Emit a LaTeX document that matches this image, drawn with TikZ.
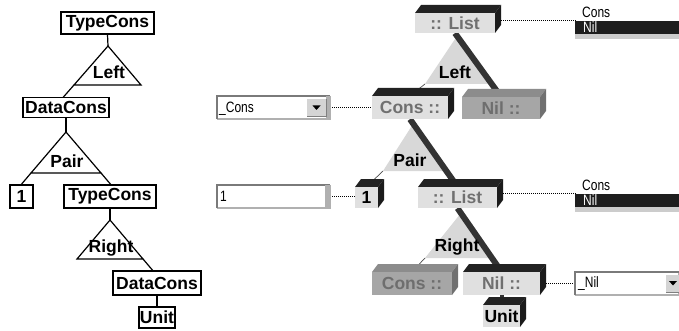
\documentclass[tikz,border=0pt]{standalone}
\usepackage{fontspec}
\setmainfont{Liberation Sans}
\newfontfamily\guifont[FakeStretch=0.8]{Liberation Sans}
\pgfdeclarelayer{paper}
\pgfdeclarelayer{bg}
\pgfsetlayers{paper,bg,main}
\definecolor{face}{HTML}{E0E0E0}
\definecolor{faced}{HTML}{A6A6A6}
\definecolor{sidek}{HTML}{222222}
\definecolor{sided}{HTML}{8C8C8C}
\definecolor{txtg}{HTML}{707070}
\definecolor{txtd}{HTML}{6E6E6E}
\definecolor{tri}{HTML}{D8D8D8}
\definecolor{barc}{HTML}{333333}
\definecolor{lbdark}{HTML}{1E1E1E}
\definecolor{framec}{HTML}{7A7A7A}
\definecolor{framel}{HTML}{B0B0B0}
\definecolor{btn}{HTML}{D4D4D4}
\def\bxd{6}
\def\bxh{8}
% 3D box: name, x1, y1, x2, y2, face, side, text colour, text
\newcommand\cbox[9]{%
  \fill[#7] (#2,#3) -- ({#2+\bxd},{#3-\bxh}) -- ({#4+\bxd},{#3-\bxh}) -- (#4,#3) -- cycle;
  \fill[#7!80!black] (#4,#3) -- ({#4+\bxd},{#3-\bxh}) -- ({#4+\bxd},{#5-\bxh}) -- (#4,#5) -- cycle;
  \node[boxface, fill=#6, text=#8, minimum width={(#4-#2)*1pt}, minimum height={(#5-#3)*1pt}] (#1) at ({(#2+#4)/2},{(#3+#5)/2}) {#9};%
}
% sunken GUI field: name, x1, y1, x2, y2
\newcommand\sunkfield[5]{%
  \node[fill=white, inner sep=0pt, minimum width={(#4-#2)*1pt}, minimum height={(#5-#3)*1pt}] (#1) at ({(#2+#4)/2},{(#3+#5)/2}) {};
  \draw[line width=1.5pt, framel] (#2,#5) -- (#4,#5) -- (#4,#3);
  \draw[line width=2pt, framec] (#2,#5) -- (#2,#3) -- (#4,#3);%
}
\begin{document}
\begin{tikzpicture}[x=1pt,y=-1pt,
  lbox/.style={draw, line width=1.2pt, inner sep=0pt, font=\bfseries\fontsize{17.5}{18}\selectfont},
  tline/.style={line width=1.2pt},
  lbl/.style={inner sep=0pt, font=\bfseries\fontsize{17.5}{18}\selectfont},
  boxface/.style={inner sep=0pt, font=\bfseries\fontsize{17.5}{18}\selectfont},
  barline/.style={line width=6pt, barc},
  thinline/.style={line width=0.7pt, gray!60!black},
  dots/.style={dash pattern=on 0.8pt off 1.2pt, line width=0.8pt},
  gui/.style={inner sep=0pt, anchor=west, font=\guifont\fontsize{15}{16}\selectfont}]
\useasboundingbox (0,0) rectangle (679,331);
\begin{pgfonlayer}{paper}
\fill[white] (0,0) rectangle (679,331);
\end{pgfonlayer}

% ---------- left tree ----------
\node[lbox, minimum width=93, minimum height=22] (TC1) at (107.5,23) {TypeCons};
\coordinate (A1) at (108,46);
\coordinate (A1l) at (74,85);
\coordinate (A1r) at (141,85);
\draw[tline] (TC1.south) -- (A1);
\draw[tline] (A1) -- (A1l) -- (A1r) -- cycle;
\node[lbl] (Lleft) at (109,72) {Left};
\node[lbox, minimum width=86, minimum height=20] (DC1) at (66,107.5) {DataCons};
\coordinate (E1) at (63,97.5);
\draw[tline] (A1l) -- (E1);

\coordinate (A2) at (66,132);
\coordinate (A2l) at (31,173);
\coordinate (A2r) at (101,173);
\draw[tline] (DC1.south) -- (A2);
\draw[tline] (A2) -- (A2l) -- (A2r) -- cycle;
\node[lbl] (Lpair) at (67,161) {Pair};
\node[lbox, minimum width=23, minimum height=23] (OneL) at (21.5,196.5) {1};
\node[lbox, minimum width=92, minimum height=23] (TC2) at (110,196.5) {TypeCons};
\coordinate (E2l) at (20.8,185);
\coordinate (E2r) at (111.2,185);
\draw[tline] (A2l) -- (E2l);
\draw[tline] (A2r) -- (E2r);

\coordinate (A3) at (110,220);
\coordinate (A3l) at (77,259);
\coordinate (A3r) at (143,259);
\draw[tline] (TC2.south) -- (A3);
\draw[tline] (A3) -- (A3l) -- (A3r) -- cycle;
\node[lbl] (Lright) at (111,248) {Right};
\node[lbox, minimum width=88, minimum height=24] (DC2) at (157,283) {DataCons};
\coordinate (E3) at (153.2,271);
\draw[tline] (A3r) -- (E3);
\node[lbox, minimum width=36, minimum height=21] (UnitL) at (157,317.5) {Unit};
\draw[tline] (DC2.south) -- (UnitL.north);

% ---------- right tree boxes ----------
\cbox{L1}{415}{13}{495}{33}{face}{sidek}{txtg}{:: List}
\cbox{C1}{372}{96}{448}{119}{face}{sidek}{txtg}{Cons ::}
\cbox{N1}{462}{97}{540}{119}{faced}{sided}{txtd}{Nil ::}
\cbox{One}{355}{187}{378}{208}{face}{sidek}{black}{1}
\cbox{L2}{418}{187}{497}{208}{face}{sidek}{txtg}{:: List}
\cbox{C2}{372}{272}{452}{295}{faced}{sided}{txtd}{Cons ::}
\cbox{N2}{463}{272}{540}{295}{face}{sidek}{txtg}{Nil ::}
\cbox{U}{483}{305}{520}{327}{face}{sidek}{black}{Unit}

\node[lbl] (Rleft) at (455,72) {Left};
\node[lbl] (Rpair) at (410,160) {Pair};
\node[lbl] (Rright) at (457,247) {Right};

% ---------- GUI widgets ----------
\sunkfield{DD1}{217}{96}{330}{119}
\fill[framel] (326,96) rectangle (330,119);
\fill[btn] (307,99) rectangle (326,116.5);
\draw[gray] (307,116.5) -- (326,116.5) -- (326,99);
\fill[black] (312.5,105.5) -- (320.5,105.5) -- (316.5,110) -- cycle;
\node[gui] (DD1t) at (219,108.5) {\_Cons};

\sunkfield{TF}{217}{185}{330}{208}
\fill[framel] (325,185) rectangle (330,208);
\node[gui] (TFt) at (220,196.5) {1};

\node[gui] (LB1c) at (582,12.5) {Cons};
\node[fill=lbdark, inner sep=0pt, minimum width=104, minimum height=13, anchor=north west] (LB1) at (575,21) {};
\node[gui, text=white] (LB1n) at (583,27.5) {Nil};
\fill[gray!40] (575,34) rectangle (679,39);
\coordinate (lb1p) at (576,20);

\node[gui] (LB2c) at (582,185.5) {Cons};
\node[fill=lbdark, inner sep=0pt, minimum width=104, minimum height=13, anchor=north west] (LB2) at (575,194) {};
\node[gui, text=white] (LB2n) at (583,200.5) {Nil};
\fill[gray!40] (575,207) rectangle (679,212);
\coordinate (lb2p) at (576,193);

\sunkfield{DD2}{575}{272}{679}{295}
\fill[btn] (666,275) rectangle (679,292);
\draw[gray] (666,292) -- (679,292);
\fill[black] (669,281) -- (677,281) -- (673,285.5) -- cycle;
\node[gui] (DD2t) at (578,284) {\_Nil};

% ---------- background: triangles, bars, thin lines, dotted ----------
\begin{pgfonlayer}{bg}
\coordinate (T1a) at (457,36);
\coordinate (T1l) at (425,84);
\coordinate (T1r) at (494,84);
\fill[tri] (T1a) -- (T1l) -- (T1r) -- cycle;
\coordinate (T2a) at (413,124);
\coordinate (T2l) at (383,171);
\coordinate (T2r) at (446,171);
\fill[tri] (T2a) -- (T2l) -- (T2r) -- cycle;
\coordinate (T3a) at (461,213);
\coordinate (T3l) at (425,258);
\coordinate (T3r) at (492,258);
\fill[tri] (T3a) -- (T3l) -- (T3r) -- cycle;
\draw[barline] (L1.south) -- (N1.north);
\draw[barline] (C1.south) -- (L2.north);
\draw[barline] (L2.south) -- (N2.north);
\draw[line width=4pt, barc] (N2.south) -- (U.north);
\draw[thinline] (T1l) -- (C1.north);
\draw[thinline] (T2l) -- (One.north);
\draw[thinline] (T3l) -- (C2.north);
\draw[dots] (DD1.east) -- (C1.west);
\draw[dots] (TF.east) -- (TF.east -| One.west);
\draw[dots] (L1.east |- lb1p) -- (lb1p);
\draw[dots] (L2.east |- lb2p) -- (lb2p);
\draw[dots] (N2.east) -- (DD2.west);
\end{pgfonlayer}
\end{tikzpicture}
\end{document}
